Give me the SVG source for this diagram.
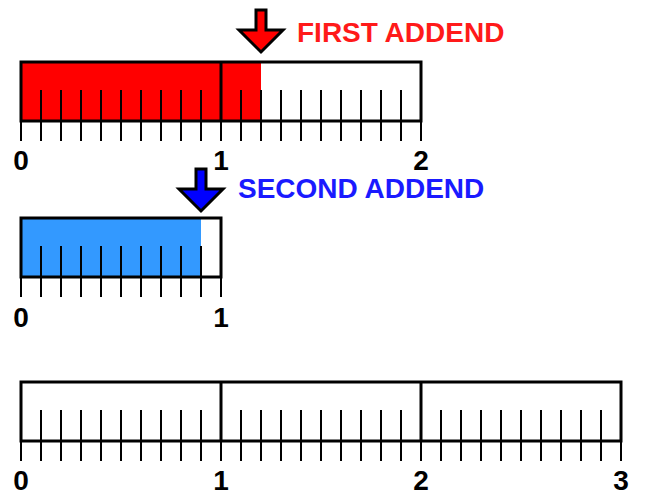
<svg xmlns="http://www.w3.org/2000/svg" width="647" height="500" viewBox="0 0 647 500">
<style>
.box{fill:none;stroke:#000;stroke-width:3;stroke-linejoin:miter}
.div{stroke:#000;stroke-width:3}
.tick{stroke:#000;stroke-width:2}
.num{font-family:"Liberation Sans",Arial,sans-serif;font-weight:bold;font-size:28px;fill:#000;text-anchor:middle}
.lbl{font-family:"Liberation Sans",Arial,sans-serif;font-weight:bold;font-size:28px}
.arrow{stroke:#000;stroke-width:3;stroke-linejoin:miter}
</style>
<g id="bar-first">
<rect x="21" y="62" width="240" height="59" fill="#ff0000"/>
<path class="tick" d="M41 90V141M61 90V141M81 90V141M101 90V141M121 90V141M141 90V141M161 90V141M181 90V141M201 90V141M241 90V141M261 90V141M281 90V141M301 90V141M321 90V141M341 90V141M361 90V141M381 90V141M401 90V141M21 121V141M221 121V141M421 121V141"/>
<line class="div" x1="221" y1="62" x2="221" y2="121"/>
<rect class="box" x="21" y="62" width="400" height="59"/>
<text class="num" x="21" y="170">0</text>
<text class="num" x="221" y="170">1</text>
<text class="num" x="421" y="170">2</text>
</g>
<g id="arrow-first">
<polygon class="arrow" fill="#ff0000" points="256,10 266,10 266,30 283,30 261,52 239,30 256,30"/>
<text class="lbl" x="297" y="42" fill="#ff1a1a">FIRST ADDEND</text>
</g>
<g id="bar-second">
<rect x="21" y="218" width="180" height="59" fill="#3399ff"/>
<path class="tick" d="M41 246V297M61 246V297M81 246V297M101 246V297M121 246V297M141 246V297M161 246V297M181 246V297M201 246V297M21 277V297M221 277V297"/>
<rect class="box" x="21" y="218" width="200" height="59"/>
<text class="num" x="21" y="327">0</text>
<text class="num" x="221" y="327">1</text>
</g>
<g id="arrow-second">
<polygon class="arrow" fill="#0000ff" points="196,169 206,169 206,189 223,189 201,211 179,189 196,189"/>
<text class="lbl" x="238" y="198" fill="#1a1aff">SECOND ADDEND</text>
</g>
<g id="bar-sum">
<path class="tick" d="M41 410V461M61 410V461M81 410V461M101 410V461M121 410V461M141 410V461M161 410V461M181 410V461M201 410V461M241 410V461M261 410V461M281 410V461M301 410V461M321 410V461M341 410V461M361 410V461M381 410V461M401 410V461M441 410V461M461 410V461M481 410V461M501 410V461M521 410V461M541 410V461M561 410V461M581 410V461M601 410V461M21 441V461M221 441V461M421 441V461M621 441V461"/>
<line class="div" x1="221" y1="382" x2="221" y2="441"/>
<line class="div" x1="421" y1="382" x2="421" y2="441"/>
<rect class="box" x="21" y="382" width="600" height="59"/>
<text class="num" x="21" y="490">0</text>
<text class="num" x="221" y="490">1</text>
<text class="num" x="421" y="490">2</text>
<text class="num" x="621" y="490">3</text>
</g>
<g id="connectors"/>
</svg>
